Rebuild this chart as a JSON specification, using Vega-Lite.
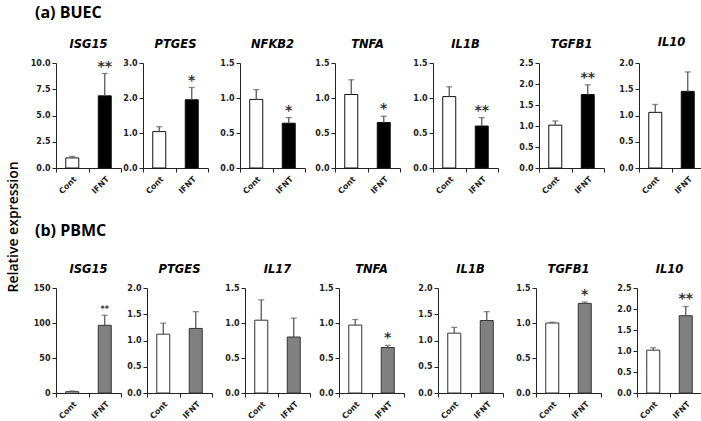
{
"$schema":"https://vega.github.io/schema/vega-lite/v6.json",
"padding":{"left":6,"top":5,"right":0,"bottom":0},
"background":"white",
"title":{"text":"Relative expression","orient":"left","anchor":"middle","font":"Open Sans","fontSize":14,"fontWeight":600,"fontStyle":"normal","offset":5,"dx":-14,"frame":"bounds"},
"datasets":{"d":[
{"cell":"BUEC","gene":"ISG15","group":"Cont","value":0.96,"err":1.10,"sig":""},
{"cell":"BUEC","gene":"ISG15","group":"IFNT","value":6.87,"err":9.0,"sig":"**"},
{"cell":"BUEC","gene":"PTGES","group":"Cont","value":1.04,"err":1.18,"sig":""},
{"cell":"BUEC","gene":"PTGES","group":"IFNT","value":1.95,"err":2.30,"sig":"*"},
{"cell":"BUEC","gene":"NFKB2","group":"Cont","value":0.98,"err":1.12,"sig":""},
{"cell":"BUEC","gene":"NFKB2","group":"IFNT","value":0.64,"err":0.72,"sig":"*"},
{"cell":"BUEC","gene":"TNFA","group":"Cont","value":1.05,"err":1.26,"sig":""},
{"cell":"BUEC","gene":"TNFA","group":"IFNT","value":0.65,"err":0.74,"sig":"*"},
{"cell":"BUEC","gene":"IL1B","group":"Cont","value":1.02,"err":1.16,"sig":""},
{"cell":"BUEC","gene":"IL1B","group":"IFNT","value":0.60,"err":0.72,"sig":"**"},
{"cell":"BUEC","gene":"TGFB1","group":"Cont","value":1.02,"err":1.12,"sig":""},
{"cell":"BUEC","gene":"TGFB1","group":"IFNT","value":1.75,"err":1.98,"sig":"**"},
{"cell":"BUEC","gene":"IL10","group":"Cont","value":1.06,"err":1.21,"sig":""},
{"cell":"BUEC","gene":"IL10","group":"IFNT","value":1.46,"err":1.83,"sig":""},
{"cell":"PBMC","gene":"ISG15","group":"Cont","value":1.9,"err":2.9,"sig":""},
{"cell":"PBMC","gene":"ISG15","group":"IFNT","value":96.7,"err":111,"sig":"**"},
{"cell":"PBMC","gene":"PTGES","group":"Cont","value":1.12,"err":1.33,"sig":""},
{"cell":"PBMC","gene":"PTGES","group":"IFNT","value":1.23,"err":1.55,"sig":""},
{"cell":"PBMC","gene":"IL17","group":"Cont","value":1.04,"err":1.33,"sig":""},
{"cell":"PBMC","gene":"IL17","group":"IFNT","value":0.80,"err":1.07,"sig":""},
{"cell":"PBMC","gene":"TNFA","group":"Cont","value":0.97,"err":1.05,"sig":""},
{"cell":"PBMC","gene":"TNFA","group":"IFNT","value":0.65,"err":0.68,"sig":"*"},
{"cell":"PBMC","gene":"IL1B","group":"Cont","value":1.14,"err":1.25,"sig":""},
{"cell":"PBMC","gene":"IL1B","group":"IFNT","value":1.38,"err":1.55,"sig":""},
{"cell":"PBMC","gene":"TGFB1","group":"Cont","value":1.00,"err":1.01,"sig":""},
{"cell":"PBMC","gene":"TGFB1","group":"IFNT","value":1.28,"err":1.30,"sig":"*"},
{"cell":"PBMC","gene":"IL10","group":"Cont","value":1.02,"err":1.08,"sig":""},
{"cell":"PBMC","gene":"IL10","group":"IFNT","value":1.84,"err":2.06,"sig":"**"}
]},
"data":{"name":"d"},
"vconcat":[
{"title":{"text":"(a) BUEC","anchor":"start","font":"Open Sans","fontSize":16,"fontWeight":"bold","fontStyle":"normal","offset":16,"dx":9,"frame":"bounds"},
"spacing":0,
"hconcat":[
{"width":65,"height":105,"title":"ISG15","transform":[{"filter":"datum.cell==='BUEC' && datum.gene==='ISG15'"}],
"encoding":{"x":{"field":"group","type":"nominal","title":null,"scale":{"domain":["Cont","IFNT"],"paddingInner":0,"paddingOuter":0}}},
"layer":[
{"mark":{"type":"bar","size":13,"stroke":"#111","strokeWidth":1},"encoding":{"y":{"field":"value","type":"quantitative","title":null,"scale":{"domain":[0,10],"nice":false},"axis":{"values":[0,2.5,5,7.5,10],"tickCount":20,"format":".1f","minExtent":30,"maxExtent":30}},"fill":{"condition":{"test":"datum.group==='Cont'","value":"white"},"value":"black"}}},
{"mark":{"type":"rule","color":"#595959","strokeWidth":1.3},"encoding":{"y":{"field":"value","type":"quantitative"},"y2":{"field":"err"}}},
{"mark":{"type":"tick","size":6,"thickness":1.3,"color":"#595959"},"encoding":{"y":{"field":"err","type":"quantitative"}}},
{"mark":{"type":"text","dy":-3,"baseline":"alphabetic","fontSize":14,"fontWeight":"bold","font":"DejaVu Sans","color":"#333"},"encoding":{"y":{"field":"err","type":"quantitative"},"text":{"field":"sig"}}}
]},
{"width":65,"height":105,"title":"PTGES","transform":[{"filter":"datum.cell==='BUEC' && datum.gene==='PTGES'"}],
"encoding":{"x":{"field":"group","type":"nominal","title":null,"scale":{"domain":["Cont","IFNT"],"paddingInner":0,"paddingOuter":0}}},
"layer":[
{"mark":{"type":"bar","size":13,"stroke":"#111","strokeWidth":1},"encoding":{"y":{"field":"value","type":"quantitative","title":null,"scale":{"domain":[0,3],"nice":false},"axis":{"values":[0,1,2,3],"tickCount":20,"format":".1f","minExtent":21,"maxExtent":21}},"fill":{"condition":{"test":"datum.group==='Cont'","value":"white"},"value":"black"}}},
{"mark":{"type":"rule","color":"#595959","strokeWidth":1.3},"encoding":{"y":{"field":"value","type":"quantitative"},"y2":{"field":"err"}}},
{"mark":{"type":"tick","size":6,"thickness":1.3,"color":"#595959"},"encoding":{"y":{"field":"err","type":"quantitative"}}},
{"mark":{"type":"text","dy":-3,"baseline":"alphabetic","fontSize":14,"fontWeight":"bold","font":"DejaVu Sans","color":"#333"},"encoding":{"y":{"field":"err","type":"quantitative"},"text":{"field":"sig"}}}
]},
{"width":65,"height":105,"title":"NFKB2","transform":[{"filter":"datum.cell==='BUEC' && datum.gene==='NFKB2'"}],
"encoding":{"x":{"field":"group","type":"nominal","title":null,"scale":{"domain":["Cont","IFNT"],"paddingInner":0,"paddingOuter":0}}},
"layer":[
{"mark":{"type":"bar","size":13,"stroke":"#111","strokeWidth":1},"encoding":{"y":{"field":"value","type":"quantitative","title":null,"scale":{"domain":[0,1.5],"nice":false},"axis":{"values":[0,0.5,1,1.5],"tickCount":20,"format":".1f","minExtent":31,"maxExtent":31}},"fill":{"condition":{"test":"datum.group==='Cont'","value":"white"},"value":"black"}}},
{"mark":{"type":"rule","color":"#595959","strokeWidth":1.3},"encoding":{"y":{"field":"value","type":"quantitative"},"y2":{"field":"err"}}},
{"mark":{"type":"tick","size":6,"thickness":1.3,"color":"#595959"},"encoding":{"y":{"field":"err","type":"quantitative"}}},
{"mark":{"type":"text","dy":-3,"baseline":"alphabetic","fontSize":14,"fontWeight":"bold","font":"DejaVu Sans","color":"#333"},"encoding":{"y":{"field":"err","type":"quantitative"},"text":{"field":"sig"}}}
]},
{"width":65,"height":105,"title":"TNFA","transform":[{"filter":"datum.cell==='BUEC' && datum.gene==='TNFA'"}],
"encoding":{"x":{"field":"group","type":"nominal","title":null,"scale":{"domain":["Cont","IFNT"],"paddingInner":0,"paddingOuter":0}}},
"layer":[
{"mark":{"type":"bar","size":13,"stroke":"#111","strokeWidth":1},"encoding":{"y":{"field":"value","type":"quantitative","title":null,"scale":{"domain":[0,1.5],"nice":false},"axis":{"values":[0,0.5,1,1.5],"tickCount":20,"format":".1f","minExtent":29,"maxExtent":29}},"fill":{"condition":{"test":"datum.group==='Cont'","value":"white"},"value":"black"}}},
{"mark":{"type":"rule","color":"#595959","strokeWidth":1.3},"encoding":{"y":{"field":"value","type":"quantitative"},"y2":{"field":"err"}}},
{"mark":{"type":"tick","size":6,"thickness":1.3,"color":"#595959"},"encoding":{"y":{"field":"err","type":"quantitative"}}},
{"mark":{"type":"text","dy":-3,"baseline":"alphabetic","fontSize":14,"fontWeight":"bold","font":"DejaVu Sans","color":"#333"},"encoding":{"y":{"field":"err","type":"quantitative"},"text":{"field":"sig"}}}
]},
{"width":65,"height":105,"title":"IL1B","transform":[{"filter":"datum.cell==='BUEC' && datum.gene==='IL1B'"}],
"encoding":{"x":{"field":"group","type":"nominal","title":null,"scale":{"domain":["Cont","IFNT"],"paddingInner":0,"paddingOuter":0}}},
"layer":[
{"mark":{"type":"bar","size":13,"stroke":"#111","strokeWidth":1},"encoding":{"y":{"field":"value","type":"quantitative","title":null,"scale":{"domain":[0,1.5],"nice":false},"axis":{"values":[0,0.5,1,1.5],"tickCount":20,"format":".1f","minExtent":32,"maxExtent":32}},"fill":{"condition":{"test":"datum.group==='Cont'","value":"white"},"value":"black"}}},
{"mark":{"type":"rule","color":"#595959","strokeWidth":1.3},"encoding":{"y":{"field":"value","type":"quantitative"},"y2":{"field":"err"}}},
{"mark":{"type":"tick","size":6,"thickness":1.3,"color":"#595959"},"encoding":{"y":{"field":"err","type":"quantitative"}}},
{"mark":{"type":"text","dy":-3,"baseline":"alphabetic","fontSize":14,"fontWeight":"bold","font":"DejaVu Sans","color":"#333"},"encoding":{"y":{"field":"err","type":"quantitative"},"text":{"field":"sig"}}}
]},
{"width":65,"height":105,"title":"TGFB1","transform":[{"filter":"datum.cell==='BUEC' && datum.gene==='TGFB1'"}],
"encoding":{"x":{"field":"group","type":"nominal","title":null,"scale":{"domain":["Cont","IFNT"],"paddingInner":0,"paddingOuter":0}}},
"layer":[
{"mark":{"type":"bar","size":13,"stroke":"#111","strokeWidth":1},"encoding":{"y":{"field":"value","type":"quantitative","title":null,"scale":{"domain":[0,2.5],"nice":false},"axis":{"values":[0,0.5,1,1.5,2,2.5],"tickCount":20,"format":".1f","minExtent":40,"maxExtent":40}},"fill":{"condition":{"test":"datum.group==='Cont'","value":"white"},"value":"black"}}},
{"mark":{"type":"rule","color":"#595959","strokeWidth":1.3},"encoding":{"y":{"field":"value","type":"quantitative"},"y2":{"field":"err"}}},
{"mark":{"type":"tick","size":6,"thickness":1.3,"color":"#595959"},"encoding":{"y":{"field":"err","type":"quantitative"}}},
{"mark":{"type":"text","dy":-3,"baseline":"alphabetic","fontSize":14,"fontWeight":"bold","font":"DejaVu Sans","color":"#333"},"encoding":{"y":{"field":"err","type":"quantitative"},"text":{"field":"sig"}}}
]},
{"width":65,"height":105,"title":"IL10","transform":[{"filter":"datum.cell==='BUEC' && datum.gene==='IL10'"}],
"encoding":{"x":{"field":"group","type":"nominal","title":null,"scale":{"domain":["Cont","IFNT"],"paddingInner":0,"paddingOuter":0}}},
"layer":[
{"mark":{"type":"bar","size":13,"stroke":"#111","strokeWidth":1},"encoding":{"y":{"field":"value","type":"quantitative","title":null,"scale":{"domain":[0,2],"nice":false},"axis":{"values":[0,0.5,1,1.5,2],"tickCount":20,"format":".1f","minExtent":34,"maxExtent":34}},"fill":{"condition":{"test":"datum.group==='Cont'","value":"white"},"value":"black"}}},
{"mark":{"type":"rule","color":"#595959","strokeWidth":1.3},"encoding":{"y":{"field":"value","type":"quantitative"},"y2":{"field":"err"}}},
{"mark":{"type":"tick","size":6,"thickness":1.3,"color":"#595959"},"encoding":{"y":{"field":"err","type":"quantitative"}}},
{"mark":{"type":"text","dy":-3,"baseline":"alphabetic","fontSize":14,"fontWeight":"bold","font":"DejaVu Sans","color":"#333"},"encoding":{"y":{"field":"err","type":"quantitative"},"text":{"field":"sig"}}}
]}
]},
{"title":{"text":"(b) PBMC","anchor":"start","font":"Open Sans","fontSize":16,"fontWeight":"bold","fontStyle":"normal","offset":25,"dx":9,"frame":"bounds"},
"spacing":0,
"hconcat":[
{"width":65,"height":105,"title":"ISG15","transform":[{"filter":"datum.cell==='PBMC' && datum.gene==='ISG15'"}],
"encoding":{"x":{"field":"group","type":"nominal","title":null,"scale":{"domain":["Cont","IFNT"],"paddingInner":0,"paddingOuter":0}}},
"layer":[
{"mark":{"type":"bar","size":13,"stroke":"#333","strokeWidth":1},"encoding":{"y":{"field":"value","type":"quantitative","title":null,"scale":{"domain":[0,150],"nice":false},"axis":{"values":[0,50,100,150],"tickCount":20,"format":"d","minExtent":30,"maxExtent":30}},"fill":{"condition":{"test":"datum.group==='Cont'","value":"white"},"value":"#808080"}}},
{"mark":{"type":"rule","color":"#595959","strokeWidth":1.3},"encoding":{"y":{"field":"value","type":"quantitative"},"y2":{"field":"err"}}},
{"mark":{"type":"tick","size":6,"thickness":1.3,"color":"#595959"},"encoding":{"y":{"field":"err","type":"quantitative"}}},
{"mark":{"type":"text","dy":-3,"baseline":"alphabetic","fontSize":8,"fontWeight":"bold","font":"DejaVu Sans","color":"#333"},"encoding":{"y":{"field":"err","type":"quantitative"},"text":{"field":"sig"}}}
]},
{"width":65,"height":105,"title":"PTGES","transform":[{"filter":"datum.cell==='PBMC' && datum.gene==='PTGES'"}],
"encoding":{"x":{"field":"group","type":"nominal","title":null,"scale":{"domain":["Cont","IFNT"],"paddingInner":0,"paddingOuter":0}}},
"layer":[
{"mark":{"type":"bar","size":13,"stroke":"#333","strokeWidth":1},"encoding":{"y":{"field":"value","type":"quantitative","title":null,"scale":{"domain":[0,2],"nice":false},"axis":{"values":[0,0.5,1,1.5,2],"tickCount":20,"format":".1f","minExtent":25,"maxExtent":25}},"fill":{"condition":{"test":"datum.group==='Cont'","value":"white"},"value":"#808080"}}},
{"mark":{"type":"rule","color":"#595959","strokeWidth":1.3},"encoding":{"y":{"field":"value","type":"quantitative"},"y2":{"field":"err"}}},
{"mark":{"type":"tick","size":6,"thickness":1.3,"color":"#595959"},"encoding":{"y":{"field":"err","type":"quantitative"}}},
{"mark":{"type":"text","dy":-3,"baseline":"alphabetic","fontSize":14,"fontWeight":"bold","font":"DejaVu Sans","color":"#333"},"encoding":{"y":{"field":"err","type":"quantitative"},"text":{"field":"sig"}}}
]},
{"width":65,"height":105,"title":"IL17","transform":[{"filter":"datum.cell==='PBMC' && datum.gene==='IL17'"}],
"encoding":{"x":{"field":"group","type":"nominal","title":null,"scale":{"domain":["Cont","IFNT"],"paddingInner":0,"paddingOuter":0}}},
"layer":[
{"mark":{"type":"bar","size":13,"stroke":"#333","strokeWidth":1},"encoding":{"y":{"field":"value","type":"quantitative","title":null,"scale":{"domain":[0,1.5],"nice":false},"axis":{"values":[0,0.5,1,1.5],"tickCount":20,"format":".1f","minExtent":32,"maxExtent":32}},"fill":{"condition":{"test":"datum.group==='Cont'","value":"white"},"value":"#808080"}}},
{"mark":{"type":"rule","color":"#595959","strokeWidth":1.3},"encoding":{"y":{"field":"value","type":"quantitative"},"y2":{"field":"err"}}},
{"mark":{"type":"tick","size":6,"thickness":1.3,"color":"#595959"},"encoding":{"y":{"field":"err","type":"quantitative"}}},
{"mark":{"type":"text","dy":-3,"baseline":"alphabetic","fontSize":14,"fontWeight":"bold","font":"DejaVu Sans","color":"#333"},"encoding":{"y":{"field":"err","type":"quantitative"},"text":{"field":"sig"}}}
]},
{"width":65,"height":105,"title":"TNFA","transform":[{"filter":"datum.cell==='PBMC' && datum.gene==='TNFA'"}],
"encoding":{"x":{"field":"group","type":"nominal","title":null,"scale":{"domain":["Cont","IFNT"],"paddingInner":0,"paddingOuter":0}}},
"layer":[
{"mark":{"type":"bar","size":13,"stroke":"#333","strokeWidth":1},"encoding":{"y":{"field":"value","type":"quantitative","title":null,"scale":{"domain":[0,1.5],"nice":false},"axis":{"values":[0,0.5,1,1.5],"tickCount":20,"format":".1f","minExtent":28,"maxExtent":28}},"fill":{"condition":{"test":"datum.group==='Cont'","value":"white"},"value":"#808080"}}},
{"mark":{"type":"rule","color":"#595959","strokeWidth":1.3},"encoding":{"y":{"field":"value","type":"quantitative"},"y2":{"field":"err"}}},
{"mark":{"type":"tick","size":6,"thickness":1.3,"color":"#595959"},"encoding":{"y":{"field":"err","type":"quantitative"}}},
{"mark":{"type":"text","dy":-3,"baseline":"alphabetic","fontSize":14,"fontWeight":"bold","font":"DejaVu Sans","color":"#333"},"encoding":{"y":{"field":"err","type":"quantitative"},"text":{"field":"sig"}}}
]},
{"width":65,"height":105,"title":"IL1B","transform":[{"filter":"datum.cell==='PBMC' && datum.gene==='IL1B'"}],
"encoding":{"x":{"field":"group","type":"nominal","title":null,"scale":{"domain":["Cont","IFNT"],"paddingInner":0,"paddingOuter":0}}},
"layer":[
{"mark":{"type":"bar","size":13,"stroke":"#333","strokeWidth":1},"encoding":{"y":{"field":"value","type":"quantitative","title":null,"scale":{"domain":[0,2],"nice":false},"axis":{"values":[0,0.5,1,1.5,2],"tickCount":20,"format":".1f","minExtent":33,"maxExtent":33}},"fill":{"condition":{"test":"datum.group==='Cont'","value":"white"},"value":"#808080"}}},
{"mark":{"type":"rule","color":"#595959","strokeWidth":1.3},"encoding":{"y":{"field":"value","type":"quantitative"},"y2":{"field":"err"}}},
{"mark":{"type":"tick","size":6,"thickness":1.3,"color":"#595959"},"encoding":{"y":{"field":"err","type":"quantitative"}}},
{"mark":{"type":"text","dy":-3,"baseline":"alphabetic","fontSize":14,"fontWeight":"bold","font":"DejaVu Sans","color":"#333"},"encoding":{"y":{"field":"err","type":"quantitative"},"text":{"field":"sig"}}}
]},
{"width":65,"height":105,"title":"TGFB1","transform":[{"filter":"datum.cell==='PBMC' && datum.gene==='TGFB1'"}],
"encoding":{"x":{"field":"group","type":"nominal","title":null,"scale":{"domain":["Cont","IFNT"],"paddingInner":0,"paddingOuter":0}}},
"layer":[
{"mark":{"type":"bar","size":13,"stroke":"#333","strokeWidth":1},"encoding":{"y":{"field":"value","type":"quantitative","title":null,"scale":{"domain":[0,1.5],"nice":false},"axis":{"values":[0,0.5,1,1.5],"tickCount":20,"format":".1f","minExtent":32,"maxExtent":32}},"fill":{"condition":{"test":"datum.group==='Cont'","value":"white"},"value":"#808080"}}},
{"mark":{"type":"rule","color":"#595959","strokeWidth":1.3},"encoding":{"y":{"field":"value","type":"quantitative"},"y2":{"field":"err"}}},
{"mark":{"type":"tick","size":6,"thickness":1.3,"color":"#595959"},"encoding":{"y":{"field":"err","type":"quantitative"}}},
{"mark":{"type":"text","dy":-3,"baseline":"alphabetic","fontSize":14,"fontWeight":"bold","font":"DejaVu Sans","color":"#333"},"encoding":{"y":{"field":"err","type":"quantitative"},"text":{"field":"sig"}}}
]},
{"width":65,"height":105,"title":"IL10","transform":[{"filter":"datum.cell==='PBMC' && datum.gene==='IL10'"}],
"encoding":{"x":{"field":"group","type":"nominal","title":null,"scale":{"domain":["Cont","IFNT"],"paddingInner":0,"paddingOuter":0}}},
"layer":[
{"mark":{"type":"bar","size":13,"stroke":"#333","strokeWidth":1},"encoding":{"y":{"field":"value","type":"quantitative","title":null,"scale":{"domain":[0,2.5],"nice":false},"axis":{"values":[0,0.5,1,1.5,2,2.5],"tickCount":20,"format":".1f","minExtent":35,"maxExtent":35}},"fill":{"condition":{"test":"datum.group==='Cont'","value":"white"},"value":"#808080"}}},
{"mark":{"type":"rule","color":"#595959","strokeWidth":1.3},"encoding":{"y":{"field":"value","type":"quantitative"},"y2":{"field":"err"}}},
{"mark":{"type":"tick","size":6,"thickness":1.3,"color":"#595959"},"encoding":{"y":{"field":"err","type":"quantitative"}}},
{"mark":{"type":"text","dy":-3,"baseline":"alphabetic","fontSize":14,"fontWeight":"bold","font":"DejaVu Sans","color":"#333"},"encoding":{"y":{"field":"err","type":"quantitative"},"text":{"field":"sig"}}}
]}
]}
],
"spacing":26,
"config":{
"view":{"stroke":null},
"title":{"font":"DejaVu Sans","fontStyle":"italic","fontWeight":"bold","fontSize":11.5,"color":"black","frame":"group","offset":9,"anchor":"middle"},
"axis":{"grid":false,"domainColor":"#222","tickColor":"#222","tickSize":4,"labelFont":"DejaVu Sans","labelFontWeight":"bold","labelFontSize":8,"labelColor":"#222","labelPadding":2},
"axisX":{"labelAngle":-45,"tickBand":"extent","labelPadding":3},
"text":{"font":"DejaVu Sans"}
}
}
